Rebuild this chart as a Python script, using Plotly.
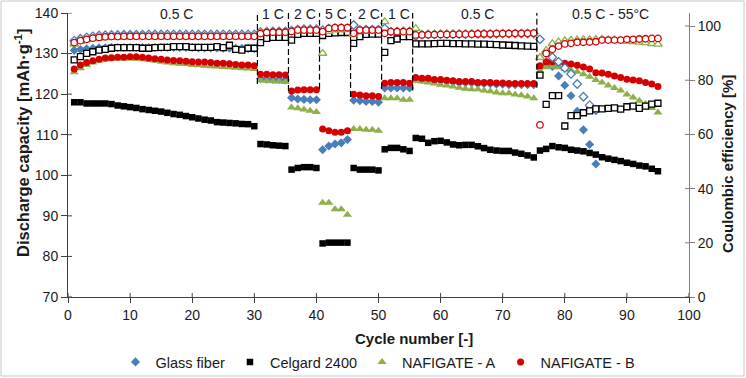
import plotly.graph_objects as go

cycles = list(range(1, 96))

# Discharge capacity [mAh/g]
gf_cap = [130.8,131.0,131.2,131.3,131.4,131.4,131.5,131.5,131.5,131.5,131.5,131.5,131.5,131.5,131.5,
          131.5,131.5,131.5,131.5,131.5,131.4,131.4,131.4,131.4,131.3,131.3,131.3,131.3,131.2,131.2,
          123.8,123.7,123.6,123.6,123.5,
          119.1,118.8,118.7,118.6,118.6,
          106.3,107.2,107.7,108.0,108.8,
          118.5,118.4,118.2,118.2,118.0,
          121.5,121.5,121.5,121.5,121.5,
          123.8,123.6,123.6,123.3,123.3,123.1,123.0,122.8,122.8,122.8,122.6,122.6,122.6,122.45,122.45,
          122.3,122.3,122.3,122.3,122.3,
          126.5,127.3,126.8,124.5,122.2,119.6,115.8,111.2,107.6,102.8,
          None,None,None,None,None,None,None,None,None,None]
cel_cap = [118.0,118.0,117.7,117.7,117.7,117.7,117.55,117.2,117.0,116.8,116.6,116.3,116.1,115.9,115.7,
           115.4,115.1,114.9,114.6,114.3,114.0,113.7,113.5,113.1,113.0,112.9,112.8,112.65,112.6,112.1,
           107.7,107.6,107.4,107.3,107.2,
           101.4,101.8,102.0,102.0,101.8,
           83.2,83.4,83.4,83.4,83.4,
           101.8,101.4,101.4,101.4,101.2,
           106.4,106.75,106.75,106.4,106.0,
           109.2,109.0,108.0,108.4,108.5,108.1,107.6,107.4,107.5,107.5,107.15,106.7,106.3,106.1,106.0,
           106.0,105.6,105.3,104.9,104.4,
           106.1,106.5,107.2,106.9,106.75,106.3,106.1,105.9,105.5,105.1,104.45,104.1,103.8,103.5,103.1,
           102.8,102.4,102.2,101.6,101.0]
a_cap = [125.4,126.4,127.2,127.8,128.2,128.5,128.7,128.8,128.8,128.8,128.7,128.6,128.4,128.2,128.0,
         127.8,127.6,127.5,127.4,127.2,127.1,127.0,126.9,126.8,126.7,126.6,126.5,126.4,126.3,126.2,
         123.4,123.3,123.2,123.1,123.0,
         116.7,116.5,116.2,115.9,115.6,
         93.2,93.2,91.6,91.6,90.3,
         111.4,111.4,111.2,111.2,111.0,
         119.0,119.0,119.0,118.6,118.6,
         123.3,123.1,122.9,122.6,122.3,122.1,121.9,121.6,121.3,121.2,121.2,120.9,120.7,120.4,120.2,
         120.2,119.9,119.7,119.4,119.0,
         125.7,126.6,126.8,126.6,126.2,125.9,125.5,124.9,124.3,123.5,122.9,122.1,121.5,120.9,119.9,
         119.2,118.4,117.6,116.6,115.5]
b_cap = [126.2,127.2,127.8,128.2,128.6,128.9,129.0,129.1,129.1,129.2,129.2,129.1,128.9,128.7,128.6,
         128.4,128.3,128.2,128.1,128.0,127.9,127.9,127.8,127.6,127.6,127.5,127.3,127.2,127.2,127.0,
         124.9,124.9,124.8,124.8,124.7,
         120.8,121.0,121.1,121.1,121.1,
         111.4,111.0,110.6,110.6,111.0,
         120.0,119.8,119.6,119.6,119.4,
         122.7,122.9,122.9,122.9,122.7,
         124.1,123.9,123.9,123.6,123.6,123.4,123.3,123.1,123.1,123.1,122.9,122.9,122.9,122.75,122.75,
         122.6,122.6,122.6,122.6,122.6,
         127.0,128.0,128.0,127.8,127.6,127.4,127.15,126.7,126.2,125.3,125.2,124.9,124.5,124.1,123.7,
         123.5,123.3,122.9,122.5,121.9]

# Coulombic efficiency [%]
gf_ce = [94.6,95.3,95.8,96.2,96.5,96.6,96.7,96.7,96.8,96.8,96.8,96.8,96.9,96.9,96.9,
         96.9,96.9,96.9,96.9,96.9,96.9,96.9,96.9,96.9,96.9,96.9,96.9,96.9,96.9,96.9,
         97.8,97.9,98.0,98.0,98.0,
         98.3,98.7,98.8,98.8,98.8,
         98.5,99.0,99.2,99.2,99.2,
         100.4,98.6,98.7,98.7,98.7,
         99.1,97.9,98.0,98.0,98.0,
         96.3,96.8,96.9,96.9,97.0,97.0,97.0,97.0,97.0,97.1,97.1,97.1,97.1,97.1,97.2,
         97.2,97.2,97.2,97.2,97.2,
         95.1,90.0,88.5,86.8,84.5,82.3,78.6,73.9,70.8,69.0,
         None,None,None,None,None,None,None,None,None,None]
cel_ce = [87.5,88.7,89.9,90.5,91.1,91.4,91.8,92.0,92.0,92.0,92.0,91.8,91.8,92.0,92.1,
          92.1,92.4,92.4,92.4,92.1,92.1,92.1,92.1,92.4,92.0,92.9,91.4,91.1,91.8,91.8,
          93.9,95.4,95.8,95.8,95.8,
          94.8,96.9,97.3,97.3,97.3,
          96.5,97.3,97.5,97.6,97.6,
          93.6,96.1,96.9,97.0,97.0,
          90.3,94.6,95.2,96.1,96.1,
          93.4,93.4,93.4,93.5,93.6,93.6,93.5,93.5,93.4,93.4,93.3,93.3,93.2,93.1,93.0,
          92.9,92.8,92.7,92.6,92.5,
          81.9,71.1,74.3,74.3,63.1,66.9,66.9,68.0,68.7,69.4,69.4,69.6,69.8,69.3,70.2,
          70.4,69.6,70.4,71.2,71.5]
a_ce = [93.3,94.3,94.9,95.3,95.5,95.7,95.8,95.9,95.9,96.0,96.0,96.0,96.0,96.0,96.0,
        96.0,96.0,96.0,96.0,96.0,96.0,96.0,96.0,96.0,96.0,96.0,96.0,96.0,96.0,96.0,
        97.6,97.7,97.7,97.7,97.7,
        98.0,98.3,98.4,98.4,98.4,
        89.9,98.0,98.5,98.5,98.7,
        97.0,98.2,98.3,98.3,98.3,
        101.6,97.6,97.7,97.7,97.7,
        99.1,96.8,96.9,96.9,97.0,97.0,97.0,97.0,97.0,97.1,97.1,97.1,97.1,97.1,97.2,
        97.2,97.2,97.2,97.2,97.2,
        88.4,91.0,93.5,94.2,94.6,94.8,94.9,95.0,95.0,95.1,95.1,95.0,94.8,94.6,94.4,
        94.2,94.0,93.8,93.5,93.3]
b_ce = [93.9,94.6,95.1,95.5,95.8,96.0,96.1,96.1,96.2,96.2,96.2,96.2,96.2,96.2,96.2,
        96.2,96.2,96.2,96.2,96.2,96.2,96.2,96.2,96.2,96.2,96.2,96.2,96.2,96.2,96.2,
        97.2,97.6,97.7,97.7,97.7,
        98.0,98.5,98.5,98.5,98.5,
        97.9,99.1,99.4,99.4,99.4,
        97.3,98.5,98.5,98.5,98.5,
        97.3,97.9,97.9,97.9,97.9,
        96.7,96.7,96.8,96.8,96.9,96.9,96.9,97.0,97.0,97.0,97.1,97.1,97.1,97.2,97.2,
        97.2,97.3,97.3,97.3,97.4,
        63.5,89.9,91.4,92.6,93.4,93.6,94.0,94.0,94.1,94.2,94.8,94.8,94.8,94.8,95.1,
        95.1,95.2,95.3,95.4,95.4]

series_names = ["Glass fiber", "Celgard 2400", "NAFIGATE - A", "NAFIGATE - B"]

# Rate-step annotations
rate_boundaries = [30.5, 35.5, 40.5, 45.5, 50.5, 55.5, 75.5]
boundary_bottoms = [122.5, 120.8, 121.3, 119.3, 121.3, 120.9, 121.6]
rate_labels = ["0.5 C", "1 C", "2 C", "5 C", "2 C", "1 C", "0.5 C", "0.5 C - 55°C"]
rate_label_x = [17.5, 33.0, 38.2, 43.1, 48.4, 53.3, 66.0, 87.4]

left_ticks = [70, 80, 90, 100, 110, 120, 130, 140]
right_ticks = [0, 20, 40, 60, 80, 100]
x_ticks = [0, 10, 20, 30, 40, 50, 60, 70, 80, 90, 100]

BLUE = "#4A7EBB"
BLACK = "#000000"
GREEN = "#8DB04A"
RED = "#D60000"
FONT = "Liberation Sans, Arial, sans-serif"
TXT = "#1a1a1a"

fig = go.Figure()

styles = [
    (gf_cap, gf_ce, BLUE, "diamond", 7),
    (cel_cap, cel_ce, BLACK, "square", 6.5),
    (a_cap, a_ce, GREEN, "triangle-up", 8),
    (b_cap, b_ce, RED, "circle", 7),
]

for name, (cap, ce, col, sym, sz) in zip(series_names, styles):
    fig.add_trace(go.Scatter(
        x=cycles, y=cap, mode="markers", name=name,
        marker=dict(symbol=sym, size=sz, color=col, line=dict(width=0)),
        yaxis="y", showlegend=True))

for name, (cap, ce, col, sym, sz) in zip(series_names, styles):
    fig.add_trace(go.Scatter(
        x=cycles, y=ce, mode="markers", name=name + " CE",
        marker=dict(symbol=sym, size=sz - 0.5, color="white", line=dict(width=1.3, color=col)),
        yaxis="y2", showlegend=False))

L, R, T, B = 68, 57, 13, 81
W = 746.0 - L - R
H = 378.0 - T - B

shapes = []
for xb, yb in zip(rate_boundaries, boundary_bottoms):
    shapes.append(dict(type="line", xref="x", yref="y", x0=xb, x1=xb, y0=yb, y1=140,
                       line=dict(color="black", width=1.2, dash="6px,3px")))

# inside halves of cross tick marks
for v in left_ticks:
    shapes.append(dict(type="line", xref="paper", yref="y", x0=0, x1=4 / W, y0=v, y1=v,
                       line=dict(color="#404040", width=1)))
for v in right_ticks:
    shapes.append(dict(type="line", xref="paper", yref="y2", x0=1 - 4 / W, x1=1, y0=v, y1=v,
                       line=dict(color="#808080", width=1)))
for v in x_ticks:
    shapes.append(dict(type="line", xref="x", yref="paper", x0=v, x1=v, y0=0, y1=4 / H,
                       line=dict(color="#404040", width=1)))
# chart border
shapes.append(dict(type="rect", xref="paper", yref="paper",
                   x0=(1 - L) / W, x1=(744 - L) / W, y0=(297 - 376) / H, y1=(297 - 1) / H,
                   line=dict(color="#C8C8C8", width=1), fillcolor="rgba(0,0,0,0)", layer="below"))


def px_x(px):
    return (px - L) / W


def px_y(py):
    return (378 - B - py) / H


annotations = []
for lab, xl in zip(rate_labels, rate_label_x):
    annotations.append(dict(text=lab, x=xl, xref="x", y=px_y(14), yref="paper",
                            showarrow=False, xanchor="center", yanchor="middle",
                            font=dict(family=FONT, size=14, color=TXT)))
annotations.append(dict(text="<b>Cycle number [-]</b>", x=px_x(414), xref="paper",
                        y=px_y(338), yref="paper", showarrow=False,
                        xanchor="center", yanchor="middle",
                        font=dict(family=FONT, size=15, color=TXT)))
annotations.append(dict(text="<b>Discharge capacity [mAh·g<sup>-1</sup>]</b>", x=px_x(22),
                        xref="paper", y=px_y(143), yref="paper", showarrow=False,
                        textangle=-90, xanchor="center", yanchor="middle",
                        font=dict(family=FONT, size=16.5, color=TXT)))
annotations.append(dict(text="<b>Coulombic efficiency [%]</b>", x=px_x(727),
                        xref="paper", y=px_y(164), yref="paper", showarrow=False,
                        textangle=-90, xanchor="center", yanchor="middle",
                        font=dict(family=FONT, size=15, color=TXT)))

fig.update_layout(
    width=746, height=378,
    margin=dict(l=L, r=R, t=T, b=B, autoexpand=False),
    paper_bgcolor="white", plot_bgcolor="white",
    font=dict(family=FONT, size=14, color=TXT),
    xaxis=dict(range=[0, 100], tickvals=x_ticks, showgrid=False, zeroline=False,
               showline=True, linecolor="#404040", linewidth=1,
               ticks="outside", ticklen=5, tickcolor="#404040",
               tickfont=dict(family=FONT, size=14, color=TXT)),
    yaxis=dict(range=[70, 140], tickvals=left_ticks, showgrid=False, zeroline=False,
               showline=True, linecolor="#404040", linewidth=1,
               ticks="outside", ticklen=6, tickcolor="#404040",
               tickfont=dict(family=FONT, size=14, color=TXT)),
    yaxis2=dict(range=[0, 104.8], tickvals=right_ticks, overlaying="y", side="right",
                showgrid=False, zeroline=False, showline=True, linecolor="#808080",
                linewidth=1, ticks="outside", ticklen=5, tickcolor="#808080",
                tickfont=dict(family=FONT, size=14, color=TXT)),
    legend=dict(orientation="h", x=px_x(378), xanchor="center",
                y=px_y(362), yanchor="middle",
                font=dict(family=FONT, size=14.5, color=TXT),
                bgcolor="rgba(0,0,0,0)", itemwidth=30),
    shapes=shapes,
    annotations=annotations,
)

fig.write_html("out.html")
